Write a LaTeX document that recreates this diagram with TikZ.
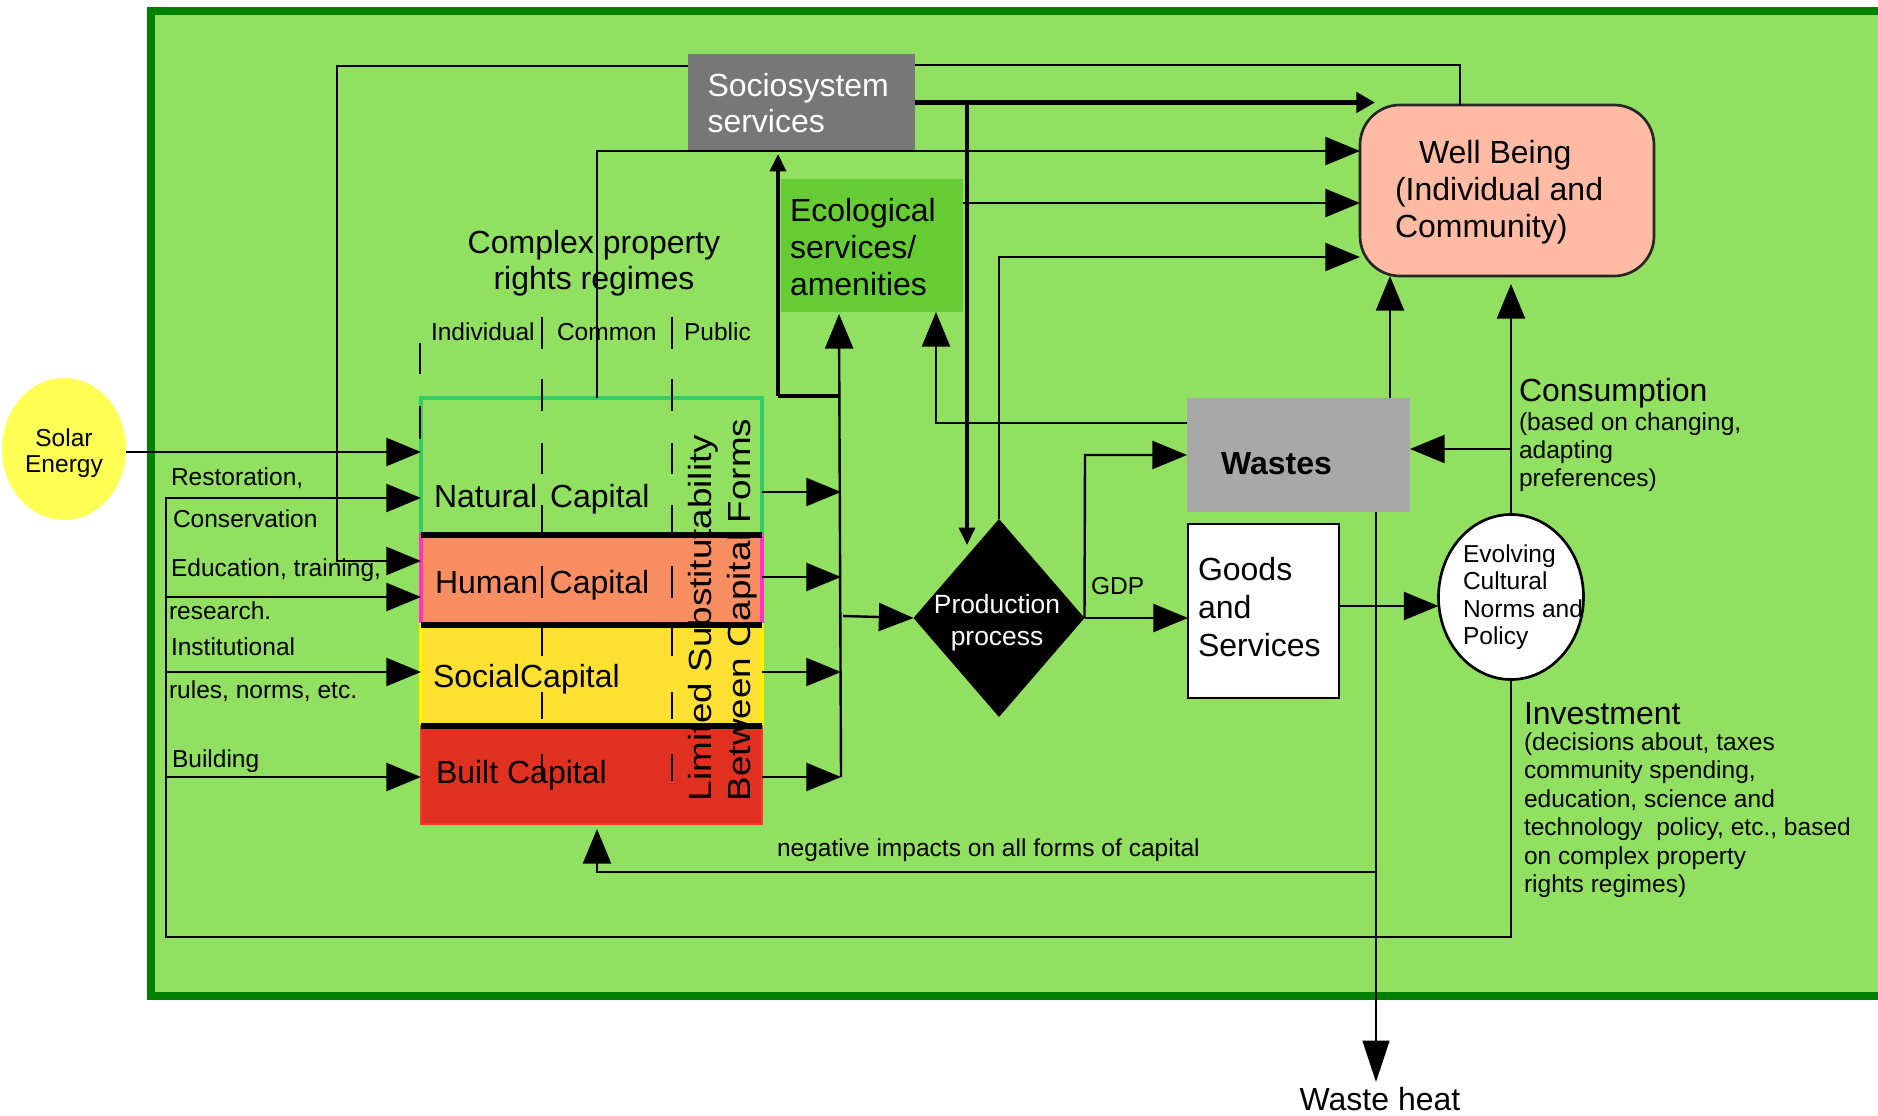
\documentclass[tikz,border=0pt]{standalone}
\usepackage{fontspec}
\usepackage{graphicx}
\setmainfont{Liberation Sans}
\usetikzlibrary{arrows.meta,shapes.geometric}
\definecolor{bgreen}{HTML}{92E062}
\definecolor{fgreen}{HTML}{008000}
\definecolor{ecog}{HTML}{66CC33}
\definecolor{sysg}{HTML}{777777}
\definecolor{wasteg}{HTML}{A8A8A8}
\definecolor{wellc}{HTML}{FFBBA3}
\definecolor{humanc}{HTML}{F98E63}
\definecolor{socialc}{HTML}{FFE033}
\definecolor{builtc}{HTML}{E03020}
\definecolor{natb}{HTML}{33CC66}
\definecolor{solarc}{HTML}{FFFF55}
\definecolor{magb}{HTML}{FF33CC}
\newcommand{\fbig}{\fontsize{24pt}{27pt}\selectfont}
\newcommand{\fsm}{\fontsize{18.4pt}{21pt}\selectfont}
\tikzset{
  size/.style 2 args={minimum width=#1*0.75pt,minimum height=#2*0.75pt,inner sep=0pt,outer sep=0pt},
  conn/.style={line width=1.8pt,draw=black},
  arr/.style={conn,-{Triangle[length=26pt,width=21pt]}},
  thinarr/.style={line width=2.6pt,-{Triangle[length=13pt,width=12pt]}},
  fatarr/.style={line width=3.8pt,-{Triangle[length=14pt,width=15pt]}},
  dashseg/.style={line width=1.8pt},
  blackbar/.style={line width=4.5pt},
  txt/.style={anchor=west,inner sep=0pt,outer sep=0pt,align=left,text=black,yshift=-1.6pt},
  big/.style={txt,font=\fbig,text height=18pt,text depth=5pt},
  small/.style={txt,font=\fsm,text height=14pt,text depth=4pt},
}
\begin{document}
\begin{tikzpicture}[x=0.75pt,y=-0.75pt]
\useasboundingbox (0,0) rectangle (1878,1116);
% frame
\fill[bgreen] (151,11) rectangle (1878,996);
\draw[fgreen,line width=6pt] (1878,11) -- (151,11) -- (151,996) -- (1878,996);
% capital boxes
\node[size={341}{137},draw=natb,line width=3pt] (natural) at (591.5,466.5) {};
\node[size={341}{90},fill=humanc,draw=magb,line width=3pt] (human) at (591.5,580) {};
\node[size={341}{101},fill=socialc,draw=yellow,line width=3pt] (social) at (591.5,675.5) {};
\node[size={341}{98},fill=builtc,draw=red!80!white,line width=2pt] (built) at (591.5,775) {};
\draw[blackbar] (human.north west) -- (human.north east);
\draw[blackbar] (human.south west) -- (human.south east);
\draw[blackbar] (built.north west) -- (built.north east);
% dashed regime separators
\foreach \a/\b in {343/374,406/439}{\draw[dashseg] (420,\a) -- (420,\b);}
\foreach \a/\b in {317/349,379/411,443/474,505/534,566/598,627/656,692/719,754/781}{
  \draw[dashseg] (542,\a) -- (542,\b);
  \draw[dashseg] (672,\a) -- (672,\b);
}
% nodes
\node[size={124}{142},ellipse,fill=solarc] (solar) at (64,449) {};
\node[size={227}{97},fill=sysg] (sys) at (801.5,102.5) {};
\node[size={182}{133},fill=ecog] (eco) at (872,245.5) {};
\node[size={294}{171},rounded corners=30pt,fill=wellc,draw=black!85,line width=2pt] (well) at (1507,190.5) {};
\node[size={223}{114},fill=wasteg] (wastes) at (1298.5,455) {};
\node[size={151}{174},fill=white,draw=black,line width=2.2pt] (goods) at (1263.5,611) {};
\node[size={145}{165},ellipse,fill=white,draw=black,line width=2pt] (culture) at (1511,597) {};
\node[size={171}{198},diamond,fill=black] (prod) at (999,618) {};
% named way points
\coordinate (loopL) at (166,937);
\coordinate (eduL) at (337,561);
\coordinate (wtop) at (1460,105);
\coordinate (natTop) at (597,398);
\coordinate (fatEnd) at (1375,102.5);
\coordinate (fatKnee) at (967,102.5);
\coordinate (fatDown) at (967,545);
\coordinate (colT) at (839,314);
\coordinate (colB) at (841,777);
\coordinate (colP) at (843,616);
\coordinate (ecoBar) at (839,396);
\coordinate (ecoKnee) at (778,396);
\coordinate (ecoTip) at (778,154);
\coordinate (wasteKnee) at (936,423);
\coordinate (gdpKnee) at (1085,455);
\coordinate (heatTip) at (1376,1082);
\coordinate (negStart) at (1376,872);
\coordinate (negKnee) at (597,872);
\coordinate (negTip) at (597,829);
% connectors, left side
\draw[arr] (solar.east |- 0,452) -- (natural.west |- 0,452);
\draw[arr] (culture.south) |- (loopL) |- (natural.west |- 0,498);
\draw[arr] (loopL |- 0,597) -- (human.west |- 0,597);
\draw[arr] (loopL |- 0,672) -- (social.west |- 0,672);
\draw[arr] (loopL |- 0,777) -- (built.west |- 0,777);
\draw[arr] (sys.west |- 0,66) -| (eduL) -- (human.west |- eduL);
% connectors to well being
\draw[conn] (sys.east |- 0,65) -| (wtop);
\draw[arr] (natTop) |- (well.west |- 0,151);
\draw[arr] (eco.east |- 0,203) -- (well.west |- 0,203);
\draw[arr] (prod.north) |- (well.west |- 0,257);
\draw[fatarr] (sys.east |- 0,102.5) -- (fatEnd);
\draw[thinarr] (fatKnee) -- (fatDown);
\draw[arr] (1390,0 |- wastes.north) -- (1390,0 |- well.south);
\draw[arr] (culture.north) -- (culture.north |- 0,284);
% collector
\draw[arr] (colB) -- (colT);
\draw[arr] (natural.east |- 0,492) -- (colB |- 0,492);
\draw[arr] (human.east |- 0,577) -- (colB |- 0,577);
\draw[arr] (social.east |- 0,672) -- (colB |- 0,672);
\draw[arr] (built.east |- 0,777) -- (colB);
\draw[line width=3pt] (ecoBar) -- (ecoKnee);
\draw[thinarr] (ecoKnee) -- (ecoTip);
\draw[arr] (colP) -- (prod.west);
% wastes and goods
\draw[arr] (wastes.west |- wasteKnee) -- (wasteKnee) -- (wasteKnee |- eco.south);
\draw[arr] (prod.east) -- (goods.west |- prod.east);
\draw[arr] (prod.east) -- (gdpKnee) -- (wastes.west |- gdpKnee);
\draw[arr] (goods.east |- 0,606) -- (culture.west |- 0,606);
\draw[arr] (culture.north |- 0,449) -- (wastes.east |- 0,449);
\draw[conn,-{Triangle[length=31pt,width=20pt]}] (heatTip |- wastes.south) -- (heatTip);
\draw[arr] (negStart) -- (negKnee) -- (negTip);
% labels
\node[txt,font=\fontsize{18.4pt}{19.5pt}\selectfont,align=center,anchor=center] at (64,451) {Solar\\Energy};
\node[txt,align=center,anchor=center,font=\fontsize{24pt}{26.5pt}\selectfont] at (594,261) {Complex property\\rights regimes};
\node[small] at (431,332) {Individual};
\node[small] at (557,332) {Common};
\node[small] at (684,332) {Public};
\node[small] at (171,477) {Restoration,};
\node[small] at (173,519) {Conservation};
\node[small] at (171,568) {Education, training,};
\node[small] at (169,611) {research.};
\node[small] at (171,647) {Institutional};
\node[small] at (169,690) {rules, norms, etc.};
\node[small] at (172,759) {Building};
\node[big] at (434,497) {Natural\hspace{3pt} Capital};
\node[big] at (435,583) {Human\hspace{2pt} Capital};
\node[big] at (433,677) {SocialCapital};
\node[big] at (436,773) {Built Capital};
\node[anchor=center,inner sep=0pt,rotate=90,align=left,font=\fontsize{24pt}{29.5pt}\selectfont] at (723,610) {\scalebox{1.15}[1]{Limited Substitutability}\\\scalebox{1.15}[1]{Between Capital Forms}};
\node[txt,font=\fontsize{24pt}{27pt}\selectfont,text=white] at (707.5,101) {Sociosystem\\services};
\node[txt,font=\fontsize{24pt}{27.5pt}\selectfont] at (790,245) {Ecological\\services/\\amenities};
\node[txt,font=\fontsize{24pt}{28pt}\selectfont] at (1395,190) {\hspace{18pt}Well Being\\(Individual and\\Community)};
\node[big,font=\bfseries\fbig] at (1221,464) {Wastes};
\node[txt,font=\fontsize{24pt}{28.5pt}\selectfont] at (1198,605) {Goods\\and\\Services};
\node[txt,font=\fontsize{19.8pt}{24pt}\selectfont,align=center,anchor=center,text=white] at (997,621) {Production\\process};
\node[small] at (1091,586) {GDP};
\node[txt,font=\fontsize{18.4pt}{20.6pt}\selectfont] at (1463,595) {Evolving\\Cultural\\Norms and\\Policy};
\node[big] at (1519,391) {Consumption};
\node[txt,font=\fontsize{18.4pt}{21pt}\selectfont] at (1519,450) {(based on changing,\\adapting\\preferences)};
\node[big] at (1524,714) {Investment};
\node[txt,font=\fontsize{18.4pt}{21.3pt}\selectfont] at (1524,813) {(decisions about, taxes\\community spending,\\education, science and\\technology\ \ policy, etc., based\\on complex property\\rights regimes)};
\node[small] at (777,848) {negative impacts on all forms of capital};
\node[big,anchor=center,align=center] at (1380,1100) {Waste heat};
\end{tikzpicture}
\end{document}
